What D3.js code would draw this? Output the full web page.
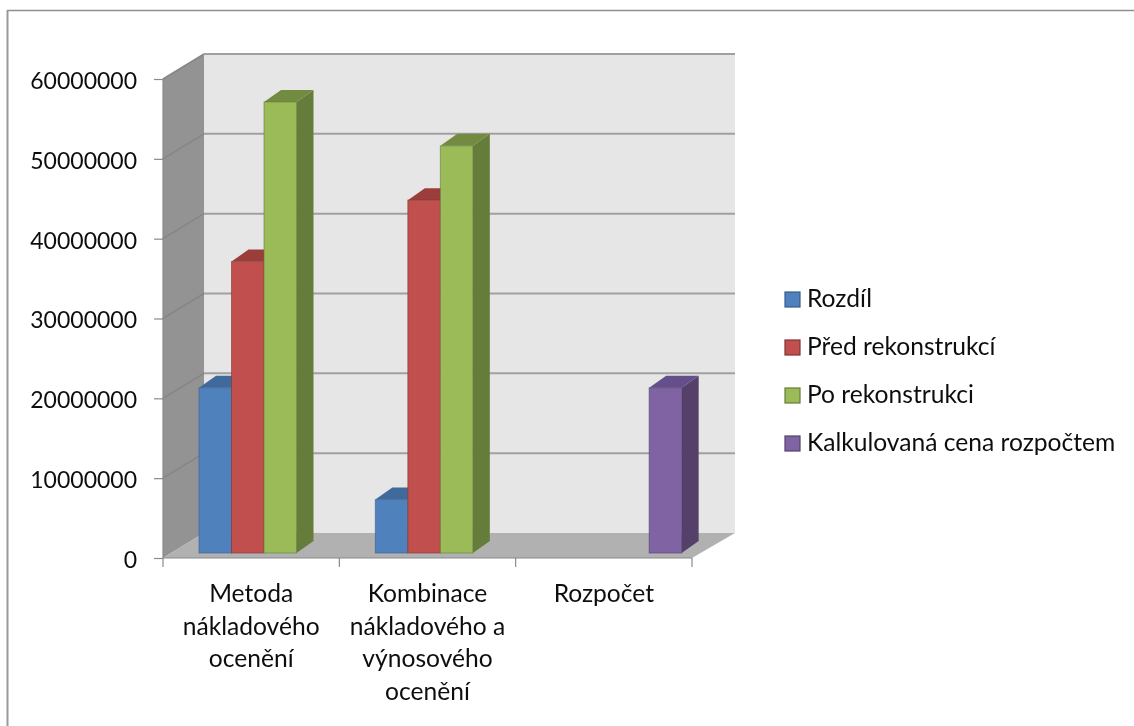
<!DOCTYPE html>
<html>
<head>
<meta charset="utf-8">
<script src="https://d3js.org/d3.v7.min.js"></script>
<style>
  html, body { margin: 0; padding: 0; background: #fff; }
  text { font-family: Lato, "Open Sans", sans-serif; fill: #111; }
</style>
</head>
<body>
<div id="chart_container"></div>
<script>
var categories = ["Metoda nákladového ocenění", "Kombinace nákladového a výnosového ocenění", "Rozpočet"];
var categoryLines = [
    ["Metoda", "nákladového", "ocenění"],
    ["Kombinace", "nákladového a", "výnosového", "ocenění"],
    ["Rozpočet"]
];
var seriesNames = ["Rozdíl", "Před rekonstrukcí", "Po rekonstrukci", "Kalkulovaná cena rozpočtem"];
var rozdil = [20700000, 6700000, null];
var predRekonstrukci = [36500000, 44200000, null];
var poRekonstrukci = [56500000, 51000000, null];
var kalkulovanaCena = [null, null, 20700000];
var yTicks = [0, 10000000, 20000000, 30000000, 40000000, 50000000, 60000000];

var seriesValues = [rozdil, predRekonstrukci, poRekonstrukci, kalkulovanaCena];
var frontColors = ["#4f81bd", "#c0504d", "#9bbb59", "#8064a2"];
var sideColors = ["#385d8a", "#7f3533", "#667c3a", "#54416b"];
var topColors = ["#41699c", "#9a3d3a", "#728b40", "#65508a"];

var width = 1134, height = 726;

// front plane of the box and how far the back wall is pushed away
var x0 = 163, x1 = 692, yBase = 558, yTop = 79;
var depthX = 41, depthY = -25;

// bars stand a little way in from the front edge
var barShiftX = 5, barShiftY = -5;
var barDepthX = 17, barDepthY = -12;

var svg = d3.select("#chart_container").append("svg")
    .attr("width", width)
    .attr("height", height)
    .style("display", "block");

var defs = svg.append("defs");
defs.append("filter").attr("id", "soft")
    .attr("x", "-5%").attr("y", "-5%").attr("width", "110%").attr("height", "110%")
    .append("feGaussianBlur").attr("stdDeviation", 0.7);
defs.append("filter").attr("id", "softText")
    .append("feGaussianBlur").attr("stdDeviation", 0.35);

var y = d3.scaleLinear().domain([0, 60000000]).range([yBase, yTop]);
var xCat = d3.scaleBand().domain(d3.range(categories.length)).range([x0, x1]);
// the three real bars fill the middle of a band, so four slots leave a gap on each side
var xSeries = d3.scaleBand().domain(d3.range(seriesNames.length)).range([36, 36 + 4 * 32.5]);

function poly(points) {
    return points.map(function(p) { return p.join(","); }).join(" ");
}

// page frame
svg.append("line").attr("x1", 7).attr("x2", width).attr("y1", 10.5).attr("y2", 10.5)
    .style("stroke", "#8f8f8f").style("stroke-width", 1.5);
svg.append("line").attr("x1", 7.5).attr("x2", 7.5).attr("y1", 10).attr("y2", height)
    .style("stroke", "#9a9a9a").style("stroke-width", 2);

var box = svg.append("g").attr("filter", "url(#soft)");

// back wall
box.append("polygon")
    .attr("points", poly([[x0 + depthX, yTop + depthY], [x1 + depthX + 2, yTop + depthY], [x1 + depthX + 2, yBase + depthY], [x0 + depthX, yBase + depthY]]))
    .style("fill", "#e6e6e6");

// side wall
box.append("polygon")
    .attr("points", poly([[x0, yTop], [x0 + depthX, yTop + depthY], [x0 + depthX, yBase + depthY], [x0, yBase]]))
    .style("fill", "#939393");

// floor
box.append("polygon")
    .attr("points", poly([[x0, yBase], [x0 + depthX, yBase + depthY], [x1 + depthX + 2, yBase + depthY], [x1, yBase]]))
    .style("fill", "#b1b1b1");

// grid lines on back wall and side wall
box.selectAll(".grid").data(yTicks.filter(function(d) { return d > 0; }))
    .enter().append("line")
    .attr("class", "grid")
    .attr("x1", x0 + depthX).attr("x2", x1 + depthX + 2)
    .attr("y1", function(d) { return y(d) + depthY; })
    .attr("y2", function(d) { return y(d) + depthY; })
    .style("stroke", "#a0a0a0").style("stroke-width", 2);
box.selectAll(".gridSide").data(yTicks.filter(function(d) { return d > 0; }))
    .enter().append("line")
    .attr("class", "gridSide")
    .attr("x1", x0).attr("x2", x0 + depthX)
    .attr("y1", function(d) { return y(d); })
    .attr("y2", function(d) { return y(d) + depthY; })
    .style("stroke", "#868686").style("stroke-width", 1.5);

// bars, each one side, top and front
seriesValues.forEach(function(values, s) {
    values.forEach(function(v, c) {
        if (v == null) return;
        var left = xCat(c) + xSeries(s) + barShiftX - 5;
        var right = left + xSeries.bandwidth();
        var bottom = y(0) + barShiftY;
        var top = y(v) + barShiftY;
        var g = box.append("g").attr("class", "bar");
        g.append("polygon")
            .attr("points", poly([[right, top], [right + barDepthX, top + barDepthY], [right + barDepthX, bottom + barDepthY], [right, bottom]]))
            .style("fill", sideColors[s]);
        g.append("polygon")
            .attr("points", poly([[left, top], [left + barDepthX, top + barDepthY], [right + barDepthX, top + barDepthY], [right, top]]))
            .style("fill", topColors[s]);
        g.append("rect")
            .attr("x", left).attr("y", top)
            .attr("width", right - left).attr("height", bottom - top)
            .style("fill", frontColors[s])
            .style("stroke", sideColors[s]).style("stroke-width", 1).style("stroke-opacity", 0.6);
    });
});

// y axis
var yAxis = d3.axisLeft(y).tickValues(yTicks).tickSize(9).tickPadding(17).tickFormat(d3.format("d"));
var yAxisG = svg.append("g").attr("transform", "translate(" + x0 + ",0)").call(yAxis);
yAxisG.selectAll("path, line").style("stroke", "#8a8a8a").style("stroke-width", 1.2);
yAxisG.select("path").attr("d", "M0," + yTop + "V" + yBase);
yAxisG.selectAll("text")
    .style("font-size", "23px")
    .attr("font-family", null)
    .attr("dy", "0.41em")
    .attr("filter", "url(#softText)");

// x axis, ticks sit on the band edges
svg.append("line").attr("x1", x0).attr("x2", x1).attr("y1", yBase).attr("y2", yBase)
    .style("stroke", "#8a8a8a").style("stroke-width", 1.2);
svg.selectAll(".xTick").data(d3.range(categories.length + 1))
    .enter().append("line")
    .attr("class", "xTick")
    .attr("x1", function(i) { return i < categories.length ? xCat(i) : x1; })
    .attr("x2", function(i) { return i < categories.length ? xCat(i) : x1; })
    .attr("y1", yBase).attr("y2", yBase + 9)
    .style("stroke", "#8a8a8a").style("stroke-width", 1.2);

// category labels
var catLabels = svg.selectAll(".catLabel").data(categoryLines)
    .enter().append("text")
    .attr("class", "catLabel")
    .attr("text-anchor", "middle")
    .attr("filter", "url(#softText)")
    .style("font-size", "24.6px");
catLabels.selectAll("tspan").data(function(d, i) {
        return d.map(function(line) { return { line: line, c: i }; });
    })
    .enter().append("tspan")
    .attr("x", function(d) { return xCat(d.c) + xCat.bandwidth() / 2; })
    .attr("y", function(d, i) { return 602 + i * 32.7; })
    .text(function(d) { return d.line; });

// legend
var legendY = d3.scalePoint().domain(seriesNames).range([300, 444]);
var legend = svg.selectAll(".legendItem").data(seriesNames)
    .enter().append("g")
    .attr("class", "legendItem")
    .attr("transform", function(d) { return "translate(785," + legendY(d) + ")"; });
legend.append("rect")
    .attr("x", 0).attr("y", -8).attr("width", 15).attr("height", 15)
    .attr("filter", "url(#soft)")
    .style("fill", function(d, i) { return frontColors[i]; })
    .style("stroke", function(d, i) { return sideColors[i]; })
    .style("stroke-width", 1.2);
legend.append("text")
    .attr("x", 22).attr("y", 7)
    .attr("filter", "url(#softText)")
    .style("font-size", "24.6px")
    .text(function(d) { return d; });
</script>
</body>
</html>
